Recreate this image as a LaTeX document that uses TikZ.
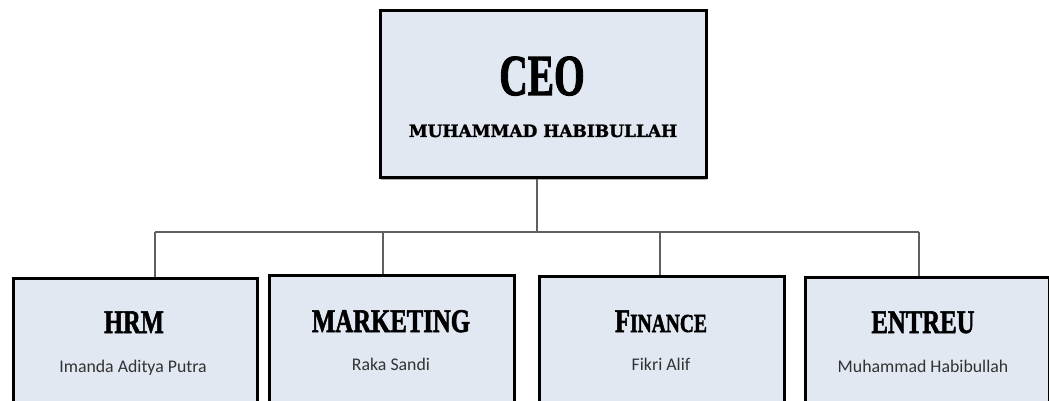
\documentclass[tikz,border=0pt]{standalone}
\usepackage{fontspec}
\usetikzlibrary{shadows}
\setmainfont{Liberation Serif}
\newfontfamily\headfont{Liberation Serif}[BoldFeatures={FakeBold=2}]
\newfontfamily\namefont{DejaVu Serif}[BoldFeatures={FakeBold=1.5}]
\newfontfamily\subfont{Carlito}
\definecolor{boxfill}{RGB}{225,232,242}
\definecolor{linegray}{RGB}{95,95,95}
\definecolor{subgray}{RGB}{50,50,50}
\begin{document}
\begin{tikzpicture}[x=1pt,y=-1pt,
  box/.style={draw=black, line width=2.8pt, fill=boxfill, rectangle, inner sep=0pt, anchor=north west,
    drop shadow={shadow xshift=1pt, shadow yshift=-2.5pt, opacity=0.3, fill=black}},
  link/.style={draw=linegray, line width=1.8pt},
  head/.style={anchor=base, inner sep=0pt, font=\headfont\bfseries\fontsize{33}{36}\selectfont},
  sub/.style={anchor=base, inner sep=0pt, text=subgray, font=\subfont\fontsize{17.8}{20}\selectfont}]
\useasboundingbox (0,0) rectangle (1049,401);
\clip (0,0) rectangle (1049,401);
\fill[white] (0,0) rectangle (1049,401);
% connectors
\coordinate (bus) at (537,232);
\coordinate (d1) at (155,232);
\coordinate (d2) at (383,232);
\coordinate (d3) at (660,232);
\coordinate (d4) at (919,232);
% boxes
\node[box, minimum width=326pt, minimum height=167pt] (ceo) at (379,9) {};
\node[box, minimum width=244pt, minimum height=160pt] (hrm) at (12,277) {};
\node[box, minimum width=245pt, minimum height=160pt] (mkt) at (268,274) {};
\node[box, minimum width=245pt, minimum height=160pt] (fin) at (538,275) {};
\node[box, minimum width=244pt, minimum height=160pt] (ent) at (804,276) {};
\draw[link] (bus |- ceo.south) -- (bus);
\draw[link] (d1) -- (d4);
\draw[link] (d1) -- (d1 |- hrm.north);
\draw[link] (d2) -- (d2 |- mkt.north);
\draw[link] (d3) -- (d3 |- fin.north);
\draw[link] (d4) -- (d4 |- ent.north);
% texts
\node[anchor=base, inner sep=0pt, font=\headfont\bfseries\fontsize{58}{62}\selectfont] (ceoT) at (542,95) {\scalebox{0.68}[1]{CEO}};
\node[anchor=base, inner sep=0pt, font=\namefont\bfseries\fontsize{17}{20}\selectfont] (ceoN) at (543,137) {MUHAMMAD HABIBULLAH};
\node[head] (hrmT) at (134,333) {\scalebox{0.74}[1]{HRM}};
\node[head] (mktT) at (391,332) {\scalebox{0.75}[1]{MARKETING}};
\node[head] (finT) at (661,332) {\scalebox{0.75}[1]{F{\fontsize{26}{28}\selectfont INANCE}}};
\node[head] (entT) at (923,333) {\scalebox{0.75}[1]{ENTREU}};
\node[sub] (hrmN) at (133,372) {Imanda Aditya Putra};
\node[sub] (mktN) at (391,370) {Raka Sandi};
\node[sub] (finN) at (661,370) {Fikri Alif};
\node[sub] (entN) at (923,372) {Muhammad Habibullah};
\end{tikzpicture}
\end{document}
